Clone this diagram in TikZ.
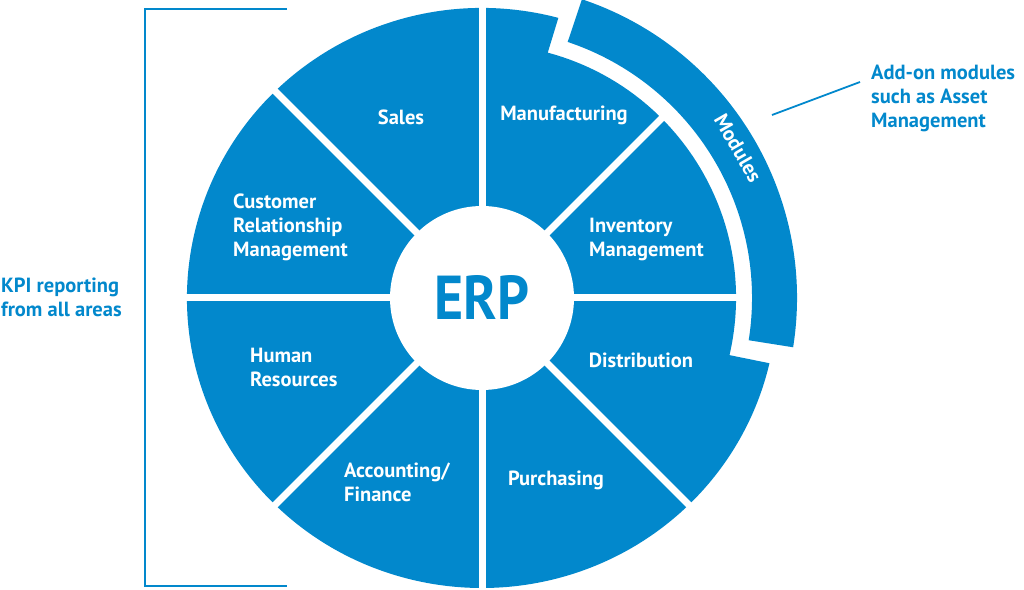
\documentclass[tikz,border=0pt]{standalone}
\usepackage{fontspec}
\setmainfont{PT Sans}
\definecolor{erpblue}{RGB}{2,136,204}
\begin{document}
\begin{tikzpicture}[x=1pt,y=1pt,
  seglabel/.style={text=white,font=\bfseries\fontsize{20.5}{24}\selectfont,inner sep=0pt,align=left},
  bluelabel/.style={text=erpblue,font=\bfseries\fontsize{20.5}{24}\selectfont,inner sep=0pt,align=left},
  divider/.style={white,line width=7pt},
  bracketline/.style={erpblue,line width=1.8pt},
  pointer/.style={erpblue,line width=1.8pt}]
\useasboundingbox (0,0) rectangle (1024,589);
\begin{scope}[shift={(482,291)}]
  % main segmented disc
  \fill[erpblue] (75:295 and 290) arc[start angle=75,end angle=347,x radius=295,y radius=290]
     -- (347:254) arc[start angle=347,end angle=435,radius=254] -- cycle;
  % dividers
  \foreach \a in {0,45,...,315} \draw[divider] (0,0) -- (\a:305);
  % centre disc
  \fill[white] (0,0) circle (92);
  % modules ring
  \fill[erpblue] (-9:270) arc[start angle=-9,end angle=71.5,radius=270]
     -- (71.5:315) arc[start angle=71.5,end angle=-9,radius=315] -- cycle;
\end{scope}
% labels
\node[text=erpblue,font=\bfseries\fontsize{62}{62}\selectfont,inner sep=0pt,xscale=0.9] (erp) at (482,292) {ERP};
\node[seglabel] (sales) at (401,472) {Sales};
\node[seglabel] (manuf) at (564,474) {Manufacturing};
\node[seglabel,anchor=west] (crm) at (233,362) {Customer\\Relationship\\Management};
\node[seglabel,anchor=west] (inv) at (589,349.5) {Inventory\\Management};
\node[seglabel,anchor=west] (hr) at (250,222) {Human\\Resources};
\node[seglabel] (dist) at (641,229) {Distribution};
\node[seglabel,anchor=west] (acc) at (344,107) {Accounting/\\Finance};
\node[seglabel] (purch) at (556,109) {Purchasing};
\node[seglabel,rotate=-60] (mod) at (738,441) {Modules};
% KPI bracket
\coordinate (bt1) at (287,580);
\coordinate (bt2) at (145,580);
\coordinate (bb2) at (145,3);
\coordinate (bb1) at (287,3);
\draw[bracketline] (bt1) -- (bt2) -- (bb2) -- (bb1);
\node[bluelabel,anchor=west] (kpi) at (1,292) {KPI reporting\\from all areas};
% add-on
\node[bluelabel,anchor=west] (addon) at (871,490.5) {Add-on modules\\such as Asset\\Management};
\coordinate (ps) at (772,474);
\coordinate (pe) at (860,507);
\draw[pointer] (ps) -- (pe);
\end{tikzpicture}
\end{document}
